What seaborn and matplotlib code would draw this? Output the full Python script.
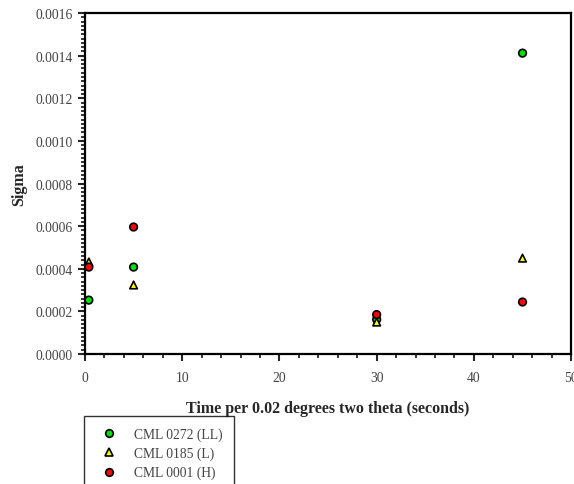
import pandas as pd
import seaborn as sns
import matplotlib.pyplot as plt
from matplotlib.ticker import MultipleLocator, FormatStrFormatter

times = [0.4, 5, 30, 45]
series = ['CML 0272 (LL)', 'CML 0185 (L)', 'CML 0001 (H)']
sigma_ll = [0.000253, 0.000408, 0.000162, 0.001412]
sigma_l = [0.000432, 0.000324, 0.000150, 0.000450]
sigma_h = [0.000408, 0.000596, 0.000185, 0.000244]

rows = []
for name, vals in zip(series, [sigma_ll, sigma_l, sigma_h]):
    for t, v in zip(times, vals):
        rows.append({'Time': t, 'Sigma': v, 'Sample': name})
df = pd.DataFrame(rows)

sns.set_style('white')
plt.rcParams['font.family'] = ['Liberation Serif', 'DejaVu Serif']

fig = plt.figure(figsize=(5.74, 4.85), dpi=100)
ax = fig.add_axes([0.148, 0.268, 0.847, 0.703])

sns.scatterplot(data=df, x='Time', y='Sigma', hue='Sample', style='Sample',
                palette={series[0]: '#00e000', series[1]: '#ffff00', series[2]: '#ff0000'},
                markers={series[0]: 'o', series[1]: '^', series[2]: 'o'},
                s=30, edgecolor='black', linewidth=1.2, ax=ax, zorder=3)

ax.set_xlim(0, 50)
ax.set_ylim(0, 0.0016)
ax.xaxis.set_major_locator(MultipleLocator(10))
ax.xaxis.set_minor_locator(MultipleLocator(2))
ax.yaxis.set_major_locator(MultipleLocator(0.0002))
ax.yaxis.set_minor_locator(MultipleLocator(0.00002))
ax.yaxis.set_major_formatter(FormatStrFormatter('%.4f'))
ax.tick_params(which='major', direction='out', length=5, width=1.5, labelsize=9.8,
               labelcolor='#444444', bottom=True, left=True, pad=4)
ax.tick_params(axis='x', which='major', pad=7)
ax.tick_params(which='minor', direction='out', length=3, width=1.3, bottom=True, left=True)
for sp in ax.spines.values():
    sp.set_linewidth(1.6)
    sp.set_color('black')

ax.set_xlabel('Time per 0.02 degrees two theta (seconds)', fontsize=11.5, fontweight='bold', labelpad=12)
ax.set_ylabel('Sigma', fontsize=11.5, fontweight='bold', labelpad=6)

ax.get_legend().remove()
handles, labels = ax.get_legend_handles_labels()
leg = fig.legend(handles, labels, loc='upper left', bbox_to_anchor=(84 / 574, 1 - 417 / 485),
                 frameon=True, fancybox=False, fontsize=9.8, borderpad=0.85,
                 handletextpad=0.8, handlelength=2.0, labelspacing=0.42, borderaxespad=0)
leg.get_frame().set_edgecolor('black')
leg.get_frame().set_linewidth(1)
for t in leg.get_texts():
    t.set_color('#444444')

fig.savefig('out.png', dpi=100)
